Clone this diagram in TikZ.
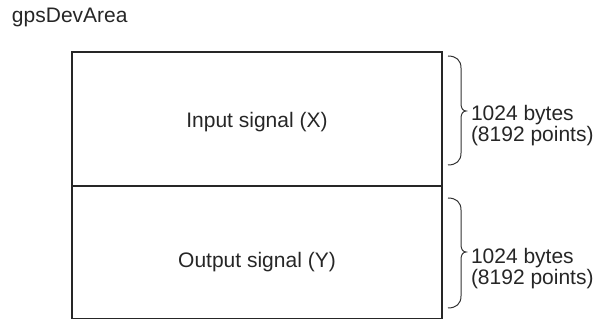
\documentclass[tikz,border=0pt]{standalone}
\usepackage{fontspec}
\setmainfont{Liberation Sans}
\begin{document}
\begin{tikzpicture}[x=1pt,y=-1pt,
  every node/.style={inner sep=0pt,outer sep=0pt,font=\fontsize{21}{21.5}\selectfont,text=black!85},
  boxline/.style={draw=black!85,line width=1.4pt},
  braceline/.style={draw=black!80,line width=1pt},
  lbl/.style={align=left,anchor=west}]
\useasboundingbox (0,0) rectangle (597,320);
\node[anchor=base west] (title) at (12,23) {gpsDevArea};
\coordinate (tl) at (72,52);
\coordinate (tr) at (442,52);
\coordinate (ml) at (72,186);
\coordinate (mr) at (442,186);
\coordinate (bl) at (72,318.6);
\coordinate (br) at (442,318.6);
\draw[boxline] (tl) -- (tr) -- (br) -- (bl) -- cycle;
\draw[boxline] (ml) -- (mr);
\node[anchor=base] (insig) at (257,127.5) {Input signal (X)};
\node[anchor=base] (outsig) at (257,268) {Output signal (Y)};
% upper brace
\draw[braceline] (448,56) .. controls (456,56) and (461,60) .. (461,68) -- (461,104)
  .. controls (461,108) and (463,111) .. (466,111)
  .. controls (463,111) and (461,114) .. (461,118) -- (461,153)
  .. controls (461,161) and (456,165) .. (448,165);
% lower brace
\draw[braceline] (448,198) .. controls (456,198) and (461,202) .. (461,210) -- (461,245)
  .. controls (461,249) and (463,252) .. (466,252)
  .. controls (463,252) and (461,255) .. (461,259) -- (461,296)
  .. controls (461,304) and (456,308) .. (448,308);
\node[lbl] (insize) at (471,125.4) {1024 bytes\\(8192 points)};
\node[lbl] (outsize) at (471,268.4) {1024 bytes\\(8192 points)};
\end{tikzpicture}
\end{document}
